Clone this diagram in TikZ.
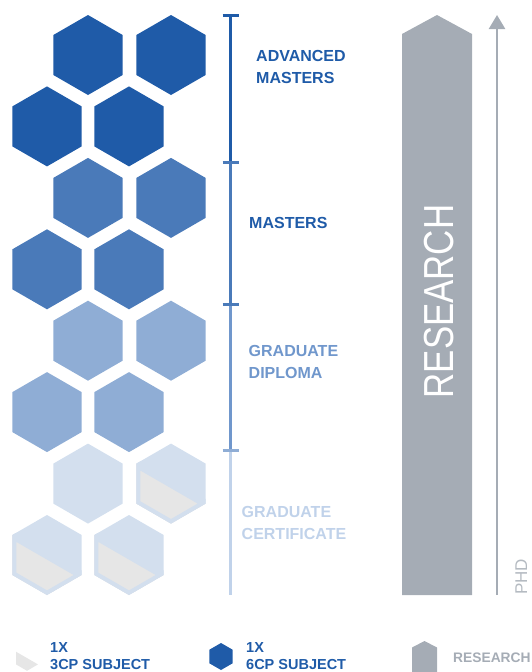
\documentclass[tikz,border=0pt]{standalone}
\usepackage{fontspec}
\setmainfont{Liberation Sans}
\usetikzlibrary{shapes.geometric,arrows.meta}
\definecolor{advblue}{HTML}{1F5BA8}
\definecolor{masblue}{HTML}{4A7AB9}
\definecolor{dipblue}{HTML}{8FADD5}
\definecolor{diptext}{HTML}{7097CC}
\definecolor{cerblue}{HTML}{D3DFEE}
\definecolor{certext}{HTML}{C0D2EA}
\definecolor{halfgrey}{HTML}{E6E6E6}
\definecolor{resgrey}{HTML}{A5ACB5}
\definecolor{phdgrey}{HTML}{B4BAC1}
\tikzstyle{hexa}=[regular polygon,regular polygon sides=6,shape border rotate=30,minimum size=80pt,inner sep=0pt,outer sep=0pt]
\tikzstyle{level}=[anchor=west,align=left,inner sep=0pt,font=\fontsize{16}{22}\selectfont\bfseries]
\tikzstyle{legend}=[anchor=west,align=left,inner sep=0pt,font=\fontsize{14.5}{17}\selectfont\bfseries]
\tikzstyle{barseg}=[line width=2.2pt]
\tikzstyle{bartick}=[line width=3pt]

\begin{document}
\begin{tikzpicture}[x=1pt,y=-1pt]
    \useasboundingbox (0,0) rectangle (531,672);
    % First we draw the hexagons, two rows per level
    \foreach \pos/\name in {{(88,55)/am1},{(171,55)/am2},{(47,126.4)/am3},{(129,126.4)/am4}}
        \node[hexa,fill=advblue] (\name) at \pos {};
    \foreach \pos/\name in {{(88,197.9)/ms1},{(171,197.9)/ms2},{(47,269.3)/ms3},{(129,269.3)/ms4}}
        \node[hexa,fill=masblue] (\name) at \pos {};
    \foreach \pos/\name in {{(88,340.7)/gd1},{(171,340.7)/gd2},{(47,412.1)/gd3},{(129,412.1)/gd4}}
        \node[hexa,fill=dipblue] (\name) at \pos {};
    \foreach \pos/\name in {{(88,483.6)/gc1},{(171,483.6)/gc2},{(47,555)/gc3},{(129,555)/gc4}}
        \node[hexa,fill=cerblue] (\name) at \pos {};

    % the 3cp halves inside the certificate hexagons
    \foreach \name in {gc2,gc3,gc4}{
        \begin{scope}[shift={(\name.center)}]
            \clip (30:40) -- (90:40) -- (150:40) -- (210:40) -- (270:40) -- (330:40) -- cycle;
            \fill[halfgrey] (-34.64,-20) -- (-34.64,20) -- (0,40) -- (34.64,20) -- cycle;
            \draw[cerblue,line width=8pt] (-34.64,-20) -- (-34.64,20) -- (0,40) -- (34.64,20) -- cycle;
        \end{scope}}

    % the level bar with its ticks
    \coordinate (t0) at (230.5,15);
    \coordinate (t1) at (230.5,162);
    \coordinate (t2) at (230.5,304);
    \coordinate (t3) at (230.5,450);
    \coordinate (t4) at (230.5,595);
    \draw[barseg,advblue] (t0) -- (t1);
    \draw[barseg,masblue] (t1) -- (t2);
    \draw[barseg,diptext] (t2) -- (t3);
    \draw[barseg,certext] (t3) -- (t4);
    \foreach \name/\col in {t0/advblue,t1/masblue,t2/masblue,t3/dipblue}
        {\draw[bartick,color=\col] ([xshift=-8pt]\name) -- ([xshift=8pt]\name);}

    % level labels
    \node[level,text=advblue] (advlabel) at (256,66.7) {ADVANCED\\MASTERS};
    \node[level,text=advblue] (maslabel) at (249,222.7) {MASTERS};
    \node[level,text=diptext] (diplabel) at (248.5,361.7) {GRADUATE\\DIPLOMA};
    \node[level,text=certext] (cerlabel) at (241.5,523.2) {GRADUATE\\CERTIFICATE};

    % research arrow
    \fill[resgrey] (402,595) -- (402,34) -- (437,15) -- (472,34) -- (472,595) -- cycle;
    \node[rotate=90,anchor=base,inner sep=0pt,text=white,font=\fontsize{42}{42}\selectfont] (restext) at (453,301.5) {\scalebox{0.83}[1]{RESEARCH}};

    % phd arrow
    \coordinate (phdbot) at (497,595);
    \coordinate (phdtop) at (497,15);
    \draw[resgrey,line width=2.5pt,-{Triangle[width=16pt,length=14pt]}] (phdbot) -- (phdtop);
    \node[rotate=90,anchor=base west,inner sep=0pt,text=phdgrey,font=\fontsize{17}{17}\selectfont] (phd) at (527,595) {PHD};

    % legend
    \fill[halfgrey] (16,651.7) -- (16,664.4) -- (27,670.8) -- (38,664.4) -- cycle;
    \node[legend,text=advblue] (key3) at (50,656) {1X\\3CP SUBJECT};
    \node[hexa,minimum size=27pt,fill=advblue] (hexkey) at (221,656.5) {};
    \node[legend,text=advblue] (key6) at (246,656) {1X\\6CP SUBJECT};
    \fill[resgrey] (412,672) -- (412,647.5) -- (424.5,641) -- (437,647.5) -- (437,672) -- cycle;
    \node[legend,text=resgrey,font=\fontsize{13.8}{17}\selectfont\bfseries] (keyres) at (453,658) {RESEARCH};
\end{tikzpicture}
\end{document}
